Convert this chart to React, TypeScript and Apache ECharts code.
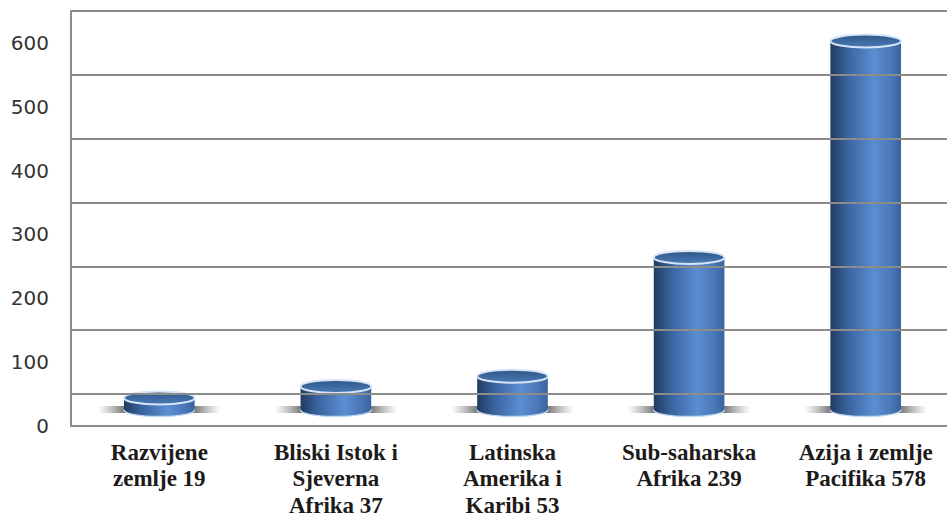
import React, { useEffect, useRef } from "react";
import * as echarts from "echarts";

const categories = [
  "Razvijene\nzemlje 19",
  "Bliski Istok i\nSjeverna\nAfrika 37",
  "Latinska\nAmerika i\nKaribi 53",
  "Sub-saharska\nAfrika 239",
  "Azija i zemlje\nPacifika 578",
];
const values = [19, 37, 53, 239, 578];
// back-wall gridlines (in bar-depth units; front labels are offset by 25)
const backGridValues = [25, 125, 225, 325, 425, 525, 625];
const labelOffset = 25;

export default function App() {
  const ref = useRef<HTMLDivElement>(null);
  useEffect(() => {
    if (!ref.current) return;
    document.body.style.margin = "0";
    const chart = echarts.init(ref.current, undefined, {
      renderer: "svg",
      width: 947,
      height: 519,
    });
    const gray = "#8c8c8c";
    const bodyGrad = () =>
      new echarts.graphic.LinearGradient(0, 0, 1, 0, [
        { offset: 0, color: "#213b60" },
        { offset: 0.25, color: "#3a64a0" },
        { offset: 0.62, color: "#5b8fd2" },
        { offset: 0.85, color: "#4a78b8" },
        { offset: 1, color: "#3a639c" },
      ]);
    const option: any = {
      animation: false,
      tooltip: { show: false },
      grid: {
        left: 71,
        right: -7,
        top: 11,
        bottom: 93,
        outerBoundsMode: "none",
      },
      xAxis: {
        type: "category",
        data: categories,
        axisLine: { show: true, onZero: false, lineStyle: { color: gray, width: 2 } },
        axisTick: { show: false },
        splitLine: { show: false },
        axisLabel: {
          interval: 0,
          margin: 13,
          fontFamily: "Liberation Serif",
          fontWeight: "bold",
          fontSize: 23,
          lineHeight: 26.5,
          color: "#1d1a1a",
        },
      },
      yAxis: {
        type: "value",
        min: -25,
        max: 625,
        interval: 100,
        axisLine: { show: true, lineStyle: { color: gray, width: 2 } },
        axisTick: { show: false },
        splitLine: { show: false },
        axisLabel: {
          showMaxLabel: false,
          margin: 22,
          fontFamily: "DejaVu Sans",
          fontSize: 20,
          color: "#333333",
          formatter: (v: number) => String(Math.round(v + labelOffset)),
        },
      },
      series: [
        {
          type: "custom",
          data: values.map((v, i) => [i, v]),
          encode: { x: 0, y: 1 },
          renderItem: (params: any, api: any) => {
            const idx = api.value(0);
            const [cx, base] = api.coord([idx, 0]);
            const top = api.coord([idx, api.value(1)])[1];
            const w = api.size([1, 0])[0] * 0.4;
            const ry = 6.5;
            return {
              type: "group",
              children: [
                {
                  type: "rect",
                  shape: { x: cx - w / 2 - 26, y: base - 4, width: w + 52, height: 7 },
                  style: {
                    fill: new echarts.graphic.LinearGradient(0, 0, 1, 0, [
                      { offset: 0, color: "rgba(120,120,120,0)" },
                      { offset: 0.22, color: "rgba(80,80,80,0.8)" },
                      { offset: 0.78, color: "rgba(80,80,80,0.8)" },
                      { offset: 1, color: "rgba(120,120,120,0)" },
                    ]),
                  },
                },
                {
                  type: "ellipse",
                  shape: { cx, cy: base, rx: w / 2, ry },
                  style: { fill: bodyGrad(), stroke: "#c3d7f0", lineWidth: 1.5 },
                },
                {
                  type: "rect",
                  shape: { x: cx - w / 2, y: top, width: w, height: base - top },
                  style: { fill: bodyGrad() },
                },
                {
                  type: "ellipse",
                  shape: { cx, cy: top, rx: w / 2, ry },
                  style: {
                    fill: new echarts.graphic.LinearGradient(0, 0, 0, 1, [
                      { offset: 0, color: "#2f5789" },
                      { offset: 1, color: "#4a7ab6" },
                    ]),
                    stroke: "#d6e5f7",
                    lineWidth: 2,
                  },
                },
              ],
            };
          },
          markLine: {
            silent: true,
            symbol: "none",
            label: { show: false },
            lineStyle: { color: gray, width: 2, type: "solid" },
            data: backGridValues.map((v) => ({ yAxis: v })),
          },
        },
      ],
    };
    chart.setOption(option);
    return () => chart.dispose();
  }, []);
  return <div ref={ref} style={{ width: 947, height: 519, background: "#fff" }} />;
}
